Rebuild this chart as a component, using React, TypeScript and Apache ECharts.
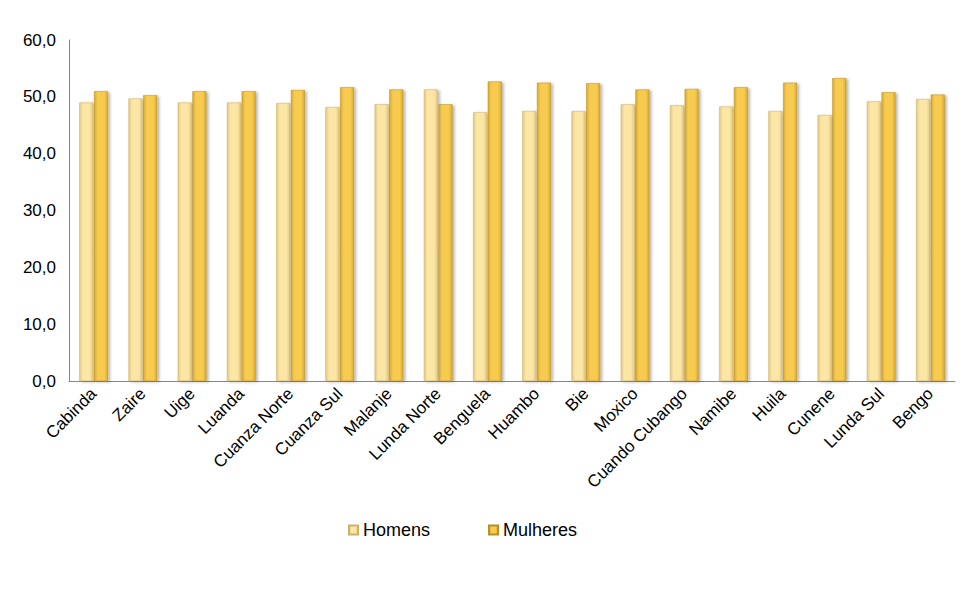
import React, { useEffect, useRef } from "react";
import * as echarts from "echarts";

const categories = ["Cabinda", "Zaire", "Uige", "Luanda", "Cuanza Norte", "Cuanza Sul", "Malanje", "Lunda Norte", "Benguela", "Huambo", "Bie", "Moxico", "Cuando Cubango", "Namibe", "Huila", "Cunene", "Lunda Sul", "Bengo"];
const homens = [49.0, 49.7, 49.0, 49.0, 48.9, 48.2, 48.7, 51.3, 47.3, 47.5, 47.5, 48.7, 48.5, 48.3, 47.5, 46.8, 49.2, 49.6];
const mulheres = [51.0, 50.3, 51.0, 51.0, 51.2, 51.7, 51.3, 48.7, 52.7, 52.5, 52.4, 51.3, 51.4, 51.7, 52.5, 53.3, 50.8, 50.4];
const yTicks = { min: 0, max: 60, interval: 10 };

const grad = (edge: string, mid: string) =>
  new echarts.graphic.LinearGradient(0, 0, 1, 0, [
    { offset: 0, color: edge },
    { offset: 0.25, color: mid },
    { offset: 0.75, color: mid },
    { offset: 1, color: edge },
  ]);

export default function App() {
  const ref = useRef<HTMLDivElement>(null);
  useEffect(() => {
    const chart = echarts.init(ref.current!, null, { renderer: "svg" });
    const font = "'Liberation Sans', Arial, sans-serif";
    chart.setOption({
      animation: false,
      textStyle: { fontFamily: font },
      grid: { left: 61, right: 17, top: 32, bottom: 200, containLabel: false },
      legend: {
        top: 508,
        left: 335,
        itemWidth: 9,
        itemHeight: 9,
        itemGap: 58,
        icon: "rect",
        textStyle: { fontSize: 18, color: "#000", fontFamily: font },
        data: ["Homens", "Mulheres"],
      },
      xAxis: {
        type: "category",
        data: categories,
        axisLine: { lineStyle: { color: "#868686" } },
        axisTick: { show: false },
        axisLabel: { rotate: 45, fontSize: 17, color: "#000", margin: 10, interval: 0, fontFamily: font },
      },
      yAxis: {
        type: "value",
        min: yTicks.min,
        max: yTicks.max,
        interval: yTicks.interval,
        axisLine: { show: true, lineStyle: { color: "#868686" } },
        axisTick: { show: false },
        splitLine: { show: false },
        axisLabel: {
          fontSize: 17,
          color: "#000",
          margin: 13,
          fontFamily: font,
          formatter: (v: number) => v.toFixed(1).replace(".", ","),
        },
      },
      series: [
        {
          name: "Homens",
          type: "bar",
          data: homens,
          barWidth: 14,
          barGap: "5%",
          itemStyle: {
            color: grad("#E3C77E", "#FCE6A6"),
            borderColor: "#CDB06A",
            borderWidth: 0.5,
            shadowColor: "rgba(0,0,0,0.3)",
            shadowBlur: 3,
            shadowOffsetX: 2,
            shadowOffsetY: 1,
          },
        },
        {
          name: "Mulheres",
          type: "bar",
          data: mulheres,
          barWidth: 14,
          itemStyle: {
            color: grad("#D9A92C", "#F6CB50"),
            borderColor: "#B98F22",
            borderWidth: 0.5,
            shadowColor: "rgba(0,0,0,0.3)",
            shadowBlur: 3,
            shadowOffsetX: 2,
            shadowOffsetY: 1,
          },
        },
      ],
    });
    return () => chart.dispose();
  }, []);
  return <div ref={ref} style={{ width: 964, height: 573 }} />;
}
